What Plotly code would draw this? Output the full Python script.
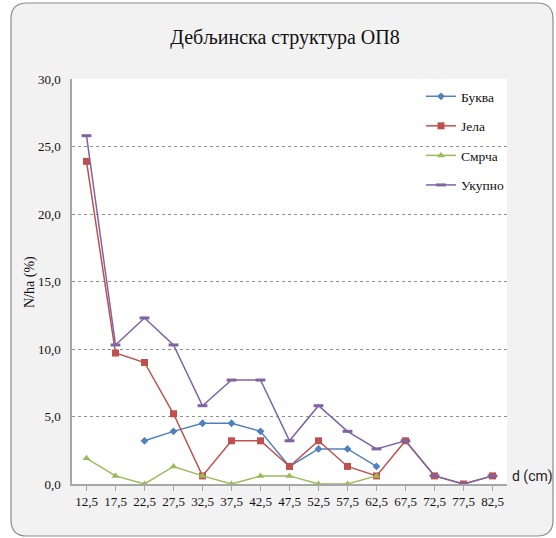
import plotly.graph_objects as go

categories = ["12,5", "17,5", "22,5", "27,5", "32,5", "37,5", "42,5", "47,5",
              "52,5", "57,5", "62,5", "67,5", "72,5", "77,5", "82,5"]
bukva = [None, None, 3.2, 3.9, 4.5, 4.5, 3.9, 1.3, 2.6, 2.6, 1.3, None, None, None, None]
jela = [23.9, 9.7, 9.0, 5.2, 0.6, 3.2, 3.2, 1.3, 3.2, 1.3, 0.6, 3.2, 0.6, 0.0, 0.6]
smrca = [1.9, 0.6, 0.0, 1.3, 0.6, 0.0, 0.6, 0.6, 0.0, 0.0, 0.6, None, None, None, None]
ukupno = [25.8, 10.3, 12.3, 10.3, 5.8, 7.7, 7.7, 3.2, 5.8, 3.9, 2.6, 3.2, 0.6, 0.0, 0.6]
y_ticks = [0, 5, 10, 15, 20, 25, 30]

W, H = 556, 538
L, R, T, B = 72, 507, 79, 484

fig = go.Figure()
series = [
    ("Буква", bukva, "#4F81BD", dict(symbol="diamond", size=6)),
    ("Јела", jela, "#C0504D", dict(symbol="square", size=7)),
    ("Смрча", smrca, "#9BBB59", dict(symbol="triangle-up", size=7)),
    ("Укупно", ukupno, "#8064A2", dict(symbol="line-ew", size=7, line=dict(width=3, color="#8064A2"))),
]
for i, (name, vals, col, mk) in enumerate(series):
    fig.add_trace(go.Scatter(
        x=categories, y=vals, name=name, mode="lines+markers",
        line=dict(color=col, width=1.5), marker=dict(color=col, **mk),
        connectgaps=False, legendgroup=f"g{i}",
    ))

def px(x):  # pixel -> paper
    return (x - L) / (R - L)

def py(y):
    return (B - y) / (B - T)

# rounded outer frame
x0, x1, y0, y1, r = 11, 553, 3, 536, 16
pts = [
    f"M {px(x0 + r)},{py(y0)}",
    f"L {px(x1 - r)},{py(y0)}",
    f"Q {px(x1)},{py(y0)} {px(x1)},{py(y0 + r)}",
    f"L {px(x1)},{py(y1 - r)}",
    f"Q {px(x1)},{py(y1)} {px(x1 - r)},{py(y1)}",
    f"L {px(x0 + r)},{py(y1)}",
    f"Q {px(x0)},{py(y1)} {px(x0)},{py(y1 - r)}",
    f"L {px(x0)},{py(y0 + r)}",
    f"Q {px(x0)},{py(y0)} {px(x0 + r)},{py(y0)}",
    "Z",
]
fig.add_shape(type="path", path=" ".join(pts), xref="paper", yref="paper",
              fillcolor="#F2F2F2", line=dict(color="#8C8C8C", width=1.2), layer="below")
fig.add_shape(type="rect", x0=0, x1=1, y0=0, y1=1, xref="paper", yref="paper",
              fillcolor="white", line=dict(width=0), layer="below")

fig.add_annotation(text="d (cm)", x=px(532), y=py(476), xref="paper", yref="paper",
                   xanchor="center", yanchor="middle",
                   showarrow=False, font=dict(family="Roboto", size=14, color="#222"))
fig.add_annotation(text="N/ha (%)", x=px(30), y=py(282), xref="paper", yref="paper",
                   xanchor="center", yanchor="middle", textangle=-90,
                   showarrow=False, font=dict(family="Liberation Serif", size=14, color="#111"))

fig.update_layout(
    width=W, height=H,
    margin=dict(l=L, r=W - R, t=T, b=H - B),
    paper_bgcolor="white", plot_bgcolor="white",
    separators=",.",
    title=dict(text="Дебљинска структура ОП8", x=285 / W, xanchor="center",
               y=1 - 37 / H, yanchor="middle", yref="container",
               font=dict(family="Liberation Serif", size=20, color="#111")),
    font=dict(family="Liberation Serif", size=13, color="#111"),
    xaxis=dict(type="category", range=[-0.5, 14.5], showgrid=False,
               showline=True, linecolor="#A6A6A6", linewidth=1.5,
               ticks="outside", ticklen=5, tickcolor="#A6A6A6",
               tickfont=dict(family="Liberation Serif", size=13), fixedrange=True),
    yaxis=dict(range=[0, 30], tickvals=y_ticks, tickformat=".1f",
               showgrid=True, gridcolor="#909090", griddash="dot", gridwidth=1,
               showline=True, linecolor="#A6A6A6", linewidth=1.5,
               zeroline=False, ticks="", ticklabelstandoff=7,
               tickfont=dict(family="Liberation Serif", size=13)),
    legend=dict(x=px(421), y=py(81), xanchor="left", yanchor="top",
                bgcolor="rgba(0,0,0,0)", font=dict(family="Liberation Serif", size=13.5),
                tracegroupgap=9, itemwidth=30),
    showlegend=True,
)

fig.write_html("out.html", config={"displayModeBar": False},
               post_script="document.body.style.margin='0';document.body.style.overflow='hidden';")
